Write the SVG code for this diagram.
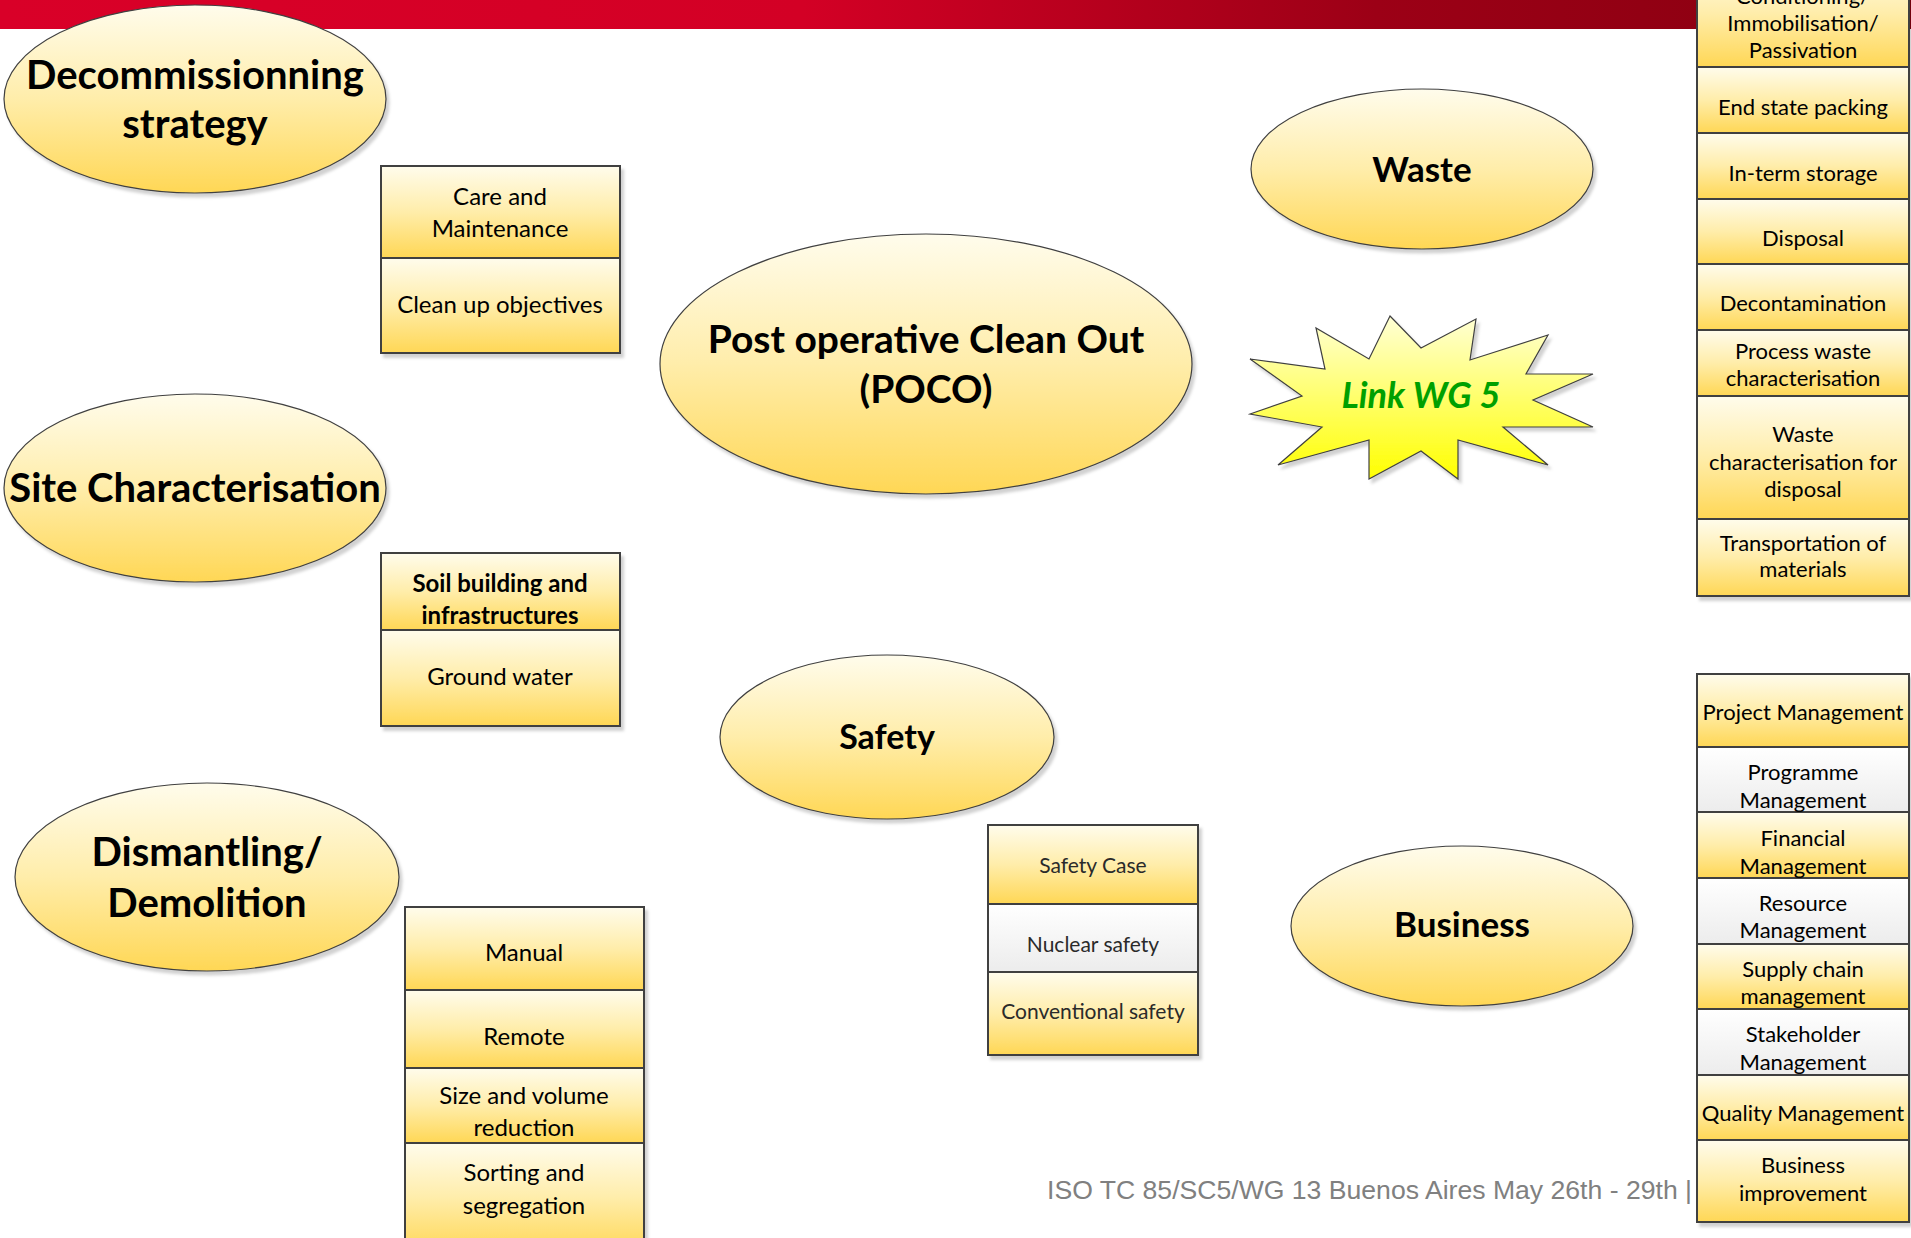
<svg xmlns="http://www.w3.org/2000/svg" width="1911" height="1238" viewBox="0 0 1911 1238">
<defs>
<linearGradient id="red" x1="0" y1="0" x2="1" y2="0">
<stop offset="0" stop-color="#d90028"/>
<stop offset="0.42" stop-color="#d30025"/>
<stop offset="0.72" stop-color="#9c0016"/>
<stop offset="1" stop-color="#880010"/>
</linearGradient>
<linearGradient id="yel" x1="0" y1="0" x2="0" y2="1">
<stop offset="0" stop-color="#fffcec"/>
<stop offset="0.5" stop-color="#ffedaa"/>
<stop offset="1" stop-color="#ffd755"/>
</linearGradient>
<linearGradient id="grey" x1="0" y1="0" x2="0" y2="1">
<stop offset="0" stop-color="#ffffff"/>
<stop offset="1" stop-color="#ececec"/>
</linearGradient>
<linearGradient id="star" x1="0" y1="0" x2="0" y2="1">
<stop offset="0" stop-color="#ffffd6"/>
<stop offset="1" stop-color="#ffff00"/>
</linearGradient>
<filter id="sh" x="-10%" y="-10%" width="125%" height="125%">
<feDropShadow dx="3" dy="4" stdDeviation="1.5" flood-color="#000" flood-opacity="0.18"/>
</filter>
</defs>
<style>
.ell{fill:url(#yel);stroke:#404040;stroke-width:1.2;filter:url(#sh)}
.cy{fill:url(#yel);stroke:#404040;stroke-width:2}
.cg{fill:url(#grey);stroke:#404040;stroke-width:2}
.big{font-family:Lato,"Liberation Sans",sans-serif;font-weight:bold;fill:#000;text-anchor:middle}
.t{font-family:Lato,"Liberation Sans",sans-serif;font-size:24px;fill:#000;text-anchor:middle}
.s{font-family:Lato,"Liberation Sans",sans-serif;font-size:22px;fill:#000;text-anchor:middle}
.sf{font-family:Lato,"Liberation Sans",sans-serif;font-size:21px;fill:#2a2a2a;text-anchor:middle}
</style>
<rect x="0" y="0" width="1911" height="29" fill="url(#red)"/>

<g id="decommissioning-strategy">
<ellipse class="ell" cx="195" cy="99" rx="191" ry="94"/>
<text class="big" x="195" y="89" font-size="40">Decommissionning</text>
<text class="big" x="195" y="138" font-size="40">strategy</text>
</g>

<g id="decommissioning-items" filter="url(#sh)">
<rect class="cy" x="381" y="166" width="239" height="92"/>
<rect class="cy" x="381" y="258" width="239" height="95"/>
</g>
<g id="decommissioning-labels">
<text class="t" x="500" y="205">Care and</text>
<text class="t" x="500" y="237">Maintenance</text>
<text class="t" x="500" y="313">Clean up objectives</text>
</g>

<g id="poco">
<ellipse class="ell" cx="926" cy="364" rx="266" ry="130"/>
<text class="big" x="926" y="353" font-size="39">Post operative Clean Out</text>
<text class="big" x="926" y="403" font-size="39">(POCO)</text>
</g>

<g id="waste">
<ellipse class="ell" cx="1422" cy="169" rx="171" ry="80"/>
<text class="big" x="1422" y="182" font-size="35">Waste</text>
</g>

<g id="link-wg5">
<polygon fill="url(#star)" stroke="#404040" stroke-width="1.2" filter="url(#sh)" points="1390,316 1421,348 1476,319 1470,360 1548,335 1526,374 1593,374 1533,400 1593,427 1503,427 1548,465 1458,440 1458,479 1421,451 1369,479 1369,440 1278,465 1322,427 1250,414 1302,396 1250,359 1325,369 1316,328 1369,359"/>
<text x="1421" y="408" font-family="Lato,'Liberation Sans',sans-serif" font-size="36" font-weight="bold" font-style="italic" fill="#00a000" text-anchor="middle">Link WG 5</text>
</g>

<g id="waste-items" filter="url(#sh)">
<rect class="cy" x="1697" y="-40" width="212" height="107"/>
<rect class="cy" x="1697" y="67" width="212" height="66"/>
<rect class="cy" x="1697" y="133" width="212" height="66"/>
<rect class="cy" x="1697" y="199" width="212" height="65"/>
<rect class="cy" x="1697" y="264" width="212" height="66"/>
<rect class="cy" x="1697" y="330" width="212" height="66"/>
<rect class="cy" x="1697" y="396" width="212" height="123"/>
<rect class="cy" x="1697" y="519" width="212" height="77"/>
</g>
<g id="waste-labels">
<text class="s" x="1803" y="4">Conditioning/</text>
<text class="s" x="1803" y="31">Immobilisation/</text>
<text class="s" x="1803" y="58">Passivation</text>
<text class="s" x="1803" y="115">End state packing</text>
<text class="s" x="1803" y="181">In-term storage</text>
<text class="s" x="1803" y="246">Disposal</text>
<text class="s" x="1803" y="311">Decontamination</text>
<text class="s" x="1803" y="359">Process waste</text>
<text class="s" x="1803" y="386">characterisation</text>
<text class="s" x="1803" y="442">Waste</text>
<text class="s" x="1803" y="470">characterisation for</text>
<text class="s" x="1803" y="497">disposal</text>
<text class="s" x="1803" y="551">Transportation of</text>
<text class="s" x="1803" y="577">materials</text>
</g>

<g id="site-characterisation">
<ellipse class="ell" cx="195" cy="488" rx="191" ry="94"/>
<text class="big" x="195" y="502" font-size="40">Site Characterisation</text>
</g>

<g id="site-items" filter="url(#sh)">
<rect class="cy" x="381" y="553" width="239" height="77"/>
<rect class="cy" x="381" y="630" width="239" height="96"/>
</g>
<g id="site-labels">
<text class="t" x="500" y="592" font-weight="bold" font-size="24.5">Soil building and</text>
<text class="t" x="500" y="624" font-weight="bold" font-size="24.5">infrastructures</text>
<text class="t" x="500" y="685">Ground water</text>
</g>

<g id="safety">
<ellipse class="ell" cx="887" cy="737" rx="167" ry="82"/>
<text class="big" x="887" y="749" font-size="34">Safety</text>
</g>

<g id="safety-items" filter="url(#sh)">
<rect class="cy" x="988" y="825" width="210" height="79"/>
<rect class="cg" x="988" y="904" width="210" height="68"/>
<rect class="cy" x="988" y="972" width="210" height="83"/>
</g>
<g id="safety-labels">
<text class="sf" x="1093" y="873">Safety Case</text>
<text class="sf" x="1093" y="952">Nuclear safety</text>
<text class="sf" x="1093" y="1019">Conventional safety</text>
</g>

<g id="dismantling">
<ellipse class="ell" cx="207" cy="877" rx="192" ry="94"/>
<text class="big" x="207" y="866" font-size="40">Dismantling/</text>
<text class="big" x="207" y="917" font-size="40">Demolition</text>
</g>

<g id="dismantling-items" filter="url(#sh)">
<rect class="cy" x="405" y="907" width="239" height="83"/>
<rect class="cy" x="405" y="990" width="239" height="78"/>
<rect class="cy" x="405" y="1068" width="239" height="75"/>
<rect class="cy" x="405" y="1143" width="239" height="110"/>
</g>
<g id="dismantling-labels">
<text class="t" x="524" y="961">Manual</text>
<text class="t" x="524" y="1045">Remote</text>
<text class="t" x="524" y="1104">Size and volume</text>
<text class="t" x="524" y="1136">reduction</text>
<text class="t" x="524" y="1181">Sorting and</text>
<text class="t" x="524" y="1214">segregation</text>
</g>

<g id="business">
<ellipse class="ell" cx="1462" cy="926" rx="171" ry="80"/>
<text class="big" x="1462" y="937" font-size="35">Business</text>
</g>

<g id="business-items" filter="url(#sh)">
<rect class="cy" x="1697" y="674" width="212" height="73"/>
<rect class="cg" x="1697" y="747" width="212" height="65"/>
<rect class="cy" x="1697" y="812" width="212" height="66"/>
<rect class="cg" x="1697" y="878" width="212" height="66"/>
<rect class="cy" x="1697" y="944" width="212" height="65"/>
<rect class="cg" x="1697" y="1009" width="212" height="66"/>
<rect class="cy" x="1697" y="1075" width="212" height="65"/>
<rect class="cy" x="1697" y="1140" width="212" height="82"/>
</g>
<g id="business-labels">
<text class="s" x="1803" y="720">Project Management</text>
<text class="s" x="1803" y="780">Programme</text>
<text class="s" x="1803" y="808">Management</text>
<text class="s" x="1803" y="846">Financial</text>
<text class="s" x="1803" y="874">Management</text>
<text class="s" x="1803" y="911">Resource</text>
<text class="s" x="1803" y="938">Management</text>
<text class="s" x="1803" y="977">Supply chain</text>
<text class="s" x="1803" y="1004">management</text>
<text class="s" x="1803" y="1042">Stakeholder</text>
<text class="s" x="1803" y="1070">Management</text>
<text class="s" x="1803" y="1121">Quality Management</text>
<text class="s" x="1803" y="1173">Business</text>
<text class="s" x="1803" y="1201">improvement</text>
</g>

<g id="connectors"></g>

<text id="footer" x="1047" y="1199" font-family="'Liberation Sans',Arial,sans-serif" font-size="26.6" fill="#808080">ISO TC 85/SC5/WG 13 Buenos Aires May 26th - 29th |</text>
</svg>
